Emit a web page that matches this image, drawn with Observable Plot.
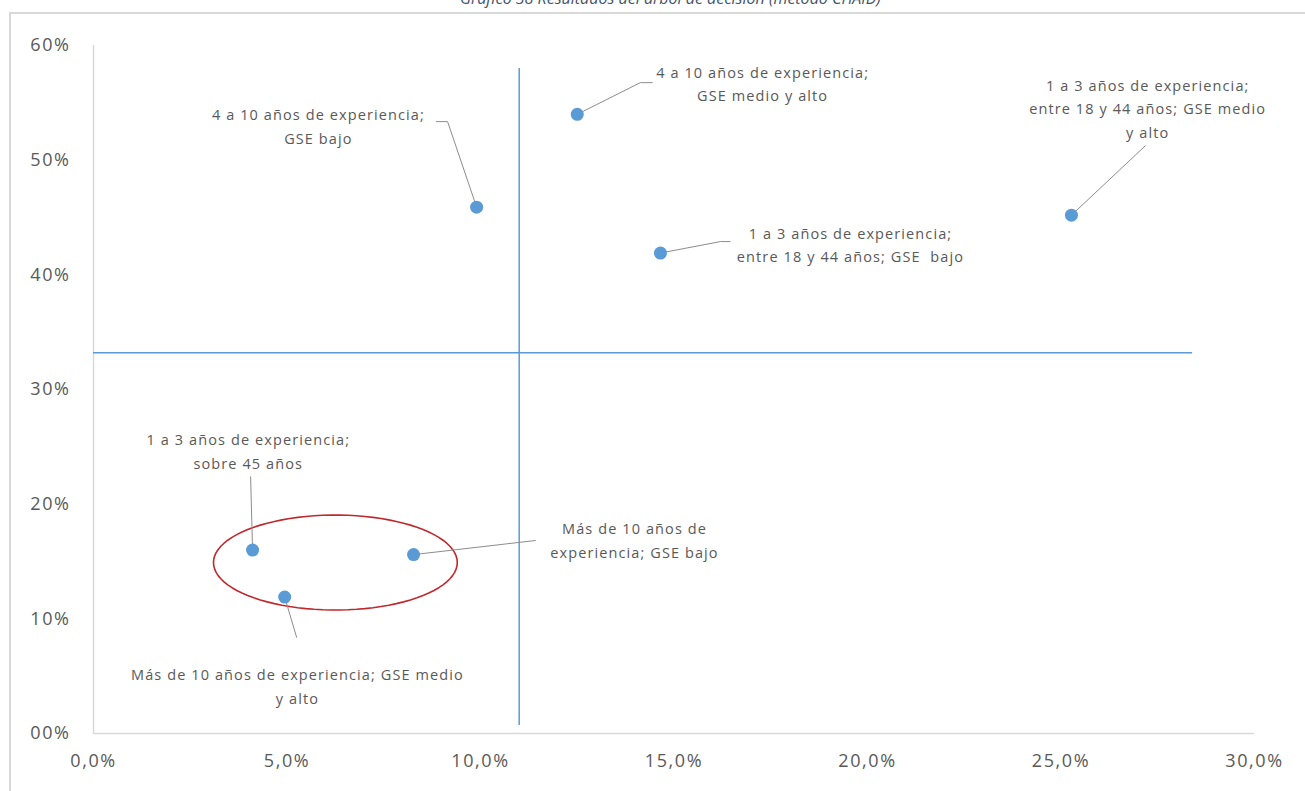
<!DOCTYPE html>
<html><head><meta charset="utf-8">
<script src="https://cdn.jsdelivr.net/npm/d3@7"></script>
<script src="https://cdn.jsdelivr.net/npm/@observablehq/plot@0.6"></script>
<style>
body{margin:0;background:#fff;overflow:hidden;width:1305px;height:791px;position:relative;}
#title{position:absolute;left:0;top:-13px;width:1305px;text-align:center;font:italic 16px "Open Sans";color:#44546a;padding-left:36px;box-sizing:border-box;white-space:nowrap;}
#frame{position:absolute;left:9px;top:12px;width:1400px;height:900px;border-top:2px solid #d9d9d9;border-left:2px solid #d9d9d9;}
#chart{position:absolute;left:0;top:0;}
#chart svg{font-family:"Open Sans",sans-serif;}
#chart [aria-label^="x-axis"] text, #chart [aria-label^="y-axis"] text{font-size:18px !important;fill:#595959;letter-spacing:1.6px;}
#chart [aria-label="text"] text{letter-spacing:1.1px;}
</style></head><body>
<div id="title">Gráfico 38 Resultados del árbol de decisión (método CHAID)</div>
<div id="frame"></div>
<div id="chart"></div>
<script>
// Segment labels
const categories = [
  "4 a 10 años de experiencia;\nGSE bajo",
  "4 a 10 años de experiencia;\nGSE medio y alto",
  "1 a 3 años de experiencia;\nentre 18 y 44 años; GSE  bajo",
  "1 a 3 años de experiencia;\nentre 18 y 44 años; GSE medio\ny alto",
  "1 a 3 años de experiencia;\nsobre 45 años",
  "Más de 10 años de experiencia; GSE medio\ny alto",
  "Más de 10 años de\nexperiencia; GSE bajo"
];
// Values (percent)
const xValues = [9.9, 12.5, 14.65, 25.27, 4.11, 4.94, 8.27];
const yValues = [45.9, 54.0, 41.9, 45.2, 16.0, 11.9, 15.6];
// Annotation anchors (data units)
const labelX = [5.81, 17.29, 19.56, 27.24, 4.0, 5.27, 13.98];
const labelY = [53.1, 56.84, 42.8, 54.66, 24.76, 4.27, 17.0];
const elbowX = [9.15, 14.13, 16.2, 27.18, 4.06, 5.25, 11.42];
const elbowY = [53.36, 56.76, 42.9, 51.26, 22.4, 8.37, 16.83];
const endX   = [8.86, 14.44, 16.45, 27.18, 4.06, 5.25, 11.42];
const endY   = [53.36, 56.76, 42.9, 51.26, 22.4, 8.37, 16.83];
// Reference lines
const xThreshold = 11.0, xThresholdFrom = 0.7, xThresholdTo = 58.0;
const yThreshold = 33.2, yThresholdFrom = 0, yThresholdTo = 28.4;
// Highlight ellipse (data units)
const ellipseCenter = [6.25, 14.91], ellipseRadius = [3.15, 4.14];
// Ticks
const xTicks = [0, 5, 10, 15, 20, 25, 30];
const yTicks = [0, 10, 20, 30, 40, 50, 60];

const points = xValues.map((x, i) => ({x, y: yValues[i], label: categories[i], lx: labelX[i], ly: labelY[i]}));
const leaders = [];
points.forEach((p, i) => {
  leaders.push({i, x: p.x, y: p.y});
  leaders.push({i, x: elbowX[i], y: elbowY[i]});
  leaders.push({i, x: endX[i], y: endY[i]});
});
const ellipse = d3.range(0, 361, 4).map(a => ({
  x: ellipseCenter[0] + ellipseRadius[0] * Math.cos(a * Math.PI / 180),
  y: ellipseCenter[1] + ellipseRadius[1] * Math.sin(a * Math.PI / 180)
}));

const chart = Plot.plot({
  width: 1305, height: 791,
  marginLeft: 93, marginRight: 51, marginTop: 45, marginBottom: 58,
  x: {domain: [0, 30], ticks: xTicks, tickSize: 0, tickPadding: 21,
      tickFormat: d => d.toFixed(1).replace(".", ",") + "%", label: null},
  y: {domain: [0, 60], ticks: yTicks, tickSize: 0, tickPadding: 23,
      tickFormat: d => (d === 0 ? "00" : d) + "%", label: null},
  marks: [
    Plot.ruleX([0], {y1: 0, y2: 60, stroke: "#d9d9d9", strokeWidth: 1.5}),
    Plot.ruleY([0], {x1: 0, x2: 30, stroke: "#d9d9d9", strokeWidth: 1.5}),
    Plot.ruleX([xThreshold], {y1: xThresholdFrom, y2: xThresholdTo, stroke: "#5b9bd5", strokeWidth: 1.5}),
    Plot.ruleY([yThreshold], {x1: yThresholdFrom, x2: yThresholdTo, stroke: "#5b9bd5", strokeWidth: 1.5}),
    Plot.line(ellipse, {x: "x", y: "y", stroke: "#c0282d", strokeWidth: 1.6}),
    Plot.line(leaders, {x: "x", y: "y", z: "i", stroke: "#8c8c8c", strokeWidth: 1}),
    Plot.dot(points, {x: "x", y: "y", r: 6.5, fill: "#5b9bd5", stroke: "none"}),
    Plot.text(points, {x: "lx", y: "ly", text: "label", fontSize: 14.5, fill: "#595959",
      textAnchor: "middle", lineAnchor: "middle", lineHeight: 1.62})
  ]
});
document.getElementById("chart").appendChild(chart);
</script>
</body></html>
